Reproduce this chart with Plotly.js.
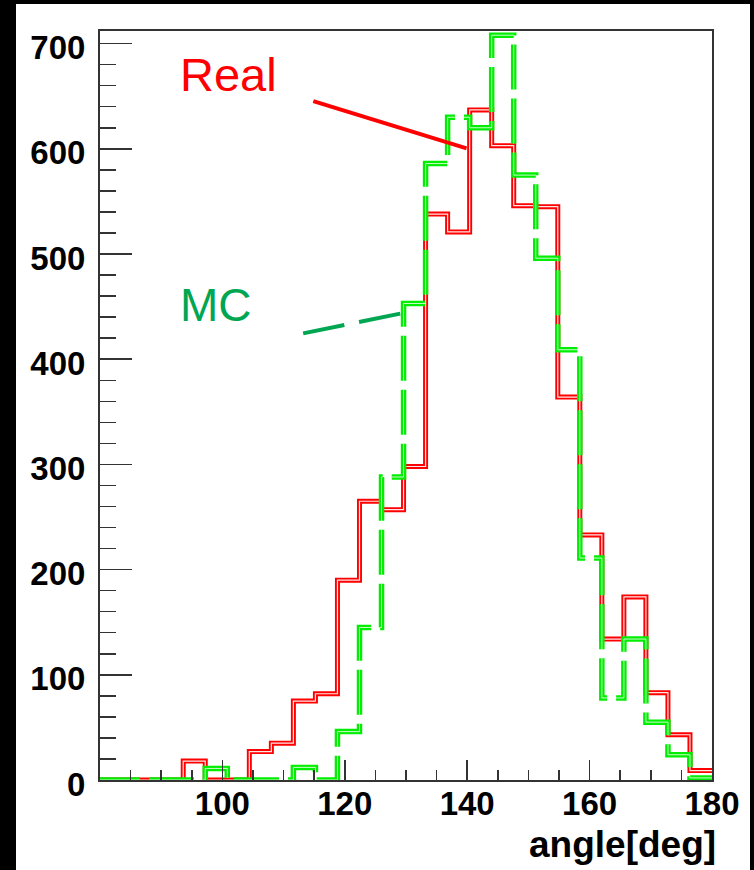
<!DOCTYPE html>
<html><head><meta charset="utf-8">
<script src="https://cdn.plot.ly/plotly-3.0.1.min.js"></script>
<style>
html,body{margin:0;padding:0;background:#000;width:754px;height:870px;overflow:hidden;}
#chart{position:absolute;left:16px;top:4px;width:734px;height:866px;background:#fff;}
</style></head><body><div id="chart"></div>
<script>
// Histogram bins (left edges, degrees) and upper edge
const binLeftEdges = [79.2, 82.8, 86.4, 90, 93.6, 97.2, 100.8, 104.4, 108, 111.6, 115.2, 118.8, 122.4, 126,
  129.6, 133.2, 136.8, 140.4, 144, 147.6, 151.2, 154.8, 158.4, 162, 165.6, 169.2, 172.8, 176.4];
const binUpperEdge = 180;
// Counts per bin
const realCounts = [0, 0, 0, 0, 18, 0, 0, 27, 35, 75, 82, 190, 265, 257,
  298, 538, 521, 637, 603, 546, 545, 364, 233, 134, 174, 83, 43, 9];
const mcCounts = [0, 0, 0, 0, 0, 11, 0, 0, 0, 12, 0, 46, 145, 288,
  453, 586, 630, 620, 708, 575, 496, 409, 211, 78, 134, 55, 24, 2];
const seriesNames = ['Real', 'MC'];
const xTickVals = [100, 120, 140, 160, 180];
const yTickVals = [0, 100, 200, 300, 400, 500, 600, 700];
const xAxisTitle = 'angle[deg]';

function stepXY(counts) {
  return { x: binLeftEdges.concat([binUpperEdge]), y: counts.concat([counts[counts.length - 1]]) };
}
const realXY = stepXY(realCounts);
const mcXY = stepXY(mcCounts);
const RED = '#ff0000', GREEN = '#00ee00', MCTEXT = '#00a651';
const dashPat = '45px,9px';

const traces = [
  { x: realXY.x, y: realXY.y, type: 'scatter', mode: 'lines', name: seriesNames[0], line: { shape: 'hv', color: RED, width: 5 }, hoverinfo: 'skip' },
  { x: realXY.x, y: realXY.y, type: 'scatter', mode: 'lines', showlegend: false, line: { shape: 'hv', color: 'rgba(255,255,255,0.9)', width: 1.2 }, hoverinfo: 'skip' },
  { x: mcXY.x, y: mcXY.y, type: 'scatter', mode: 'lines', name: seriesNames[1], line: { shape: 'hv', color: GREEN, width: 5.5, dash: dashPat }, hoverinfo: 'skip' },
  { x: mcXY.x, y: mcXY.y, type: 'scatter', mode: 'lines', showlegend: false, line: { shape: 'hv', color: 'rgba(255,255,255,0.8)', width: 1, dash: dashPat }, hoverinfo: 'skip' }
];

const tickFont = { family: 'Liberation Sans, Arial, sans-serif', size: 33, color: '#000', weight: 'bold' };
const axisCommon = {
  showline: true, mirror: true, linecolor: '#333', linewidth: 2,
  ticks: 'inside', tickmode: 'array', tickwidth: 1.5, tickcolor: '#333',
  showgrid: false, zeroline: false, tickfont: tickFont, fixedrange: true
};

const layout = {
  width: 734, height: 866,
  margin: { l: 84, r: 38, t: 27, b: 90, pad: 0 },
  paper_bgcolor: '#fff', plot_bgcolor: '#fff',
  showlegend: false,
  xaxis: Object.assign({}, axisCommon, {
    range: [80, 180], tickvals: xTickVals, ticktext: xTickVals.map(String), ticklen: 20,
    ticklabelstandoff: -7,
    minor: { tickmode: 'linear', tick0: 80, dtick: 5, ticks: 'inside', ticklen: 10, tickwidth: 1.5, tickcolor: '#333' }
  }),
  yaxis: Object.assign({}, axisCommon, {
    range: [0, 712], tickvals: yTickVals, ticktext: yTickVals.map(String), ticklen: 32,
    ticklabelstandoff: 6, ticklabelshift: 4,
    minor: { tickmode: 'linear', tick0: 0, dtick: 20, ticks: 'inside', ticklen: 16, tickwidth: 1.5, tickcolor: '#333' }
  }),
  annotations: [
    { xref: 'x', yref: 'y', x: 92.9, y: 671, text: seriesNames[0], showarrow: false, xanchor: 'left', yanchor: 'middle', borderpad: 0,
      font: { family: 'Liberation Sans, Arial, sans-serif', size: 47, color: RED } },
    { xref: 'x', yref: 'y', x: 92.9, y: 452, text: seriesNames[1], showarrow: false, xanchor: 'left', yanchor: 'middle', borderpad: 0,
      font: { family: 'Liberation Sans, Arial, sans-serif', size: 46, color: MCTEXT } },
    { xref: 'paper', yref: 'paper', x: (717 - 100) / 612, y: -0.058, text: xAxisTitle, showarrow: false, xanchor: 'right', yanchor: 'top', borderpad: 0,
      font: { family: 'Liberation Sans, Arial, sans-serif', size: 37, color: '#000', weight: 'bold' } }
  ],
  shapes: [
    { type: 'line', xref: 'x', yref: 'y', x0: 114.85, y0: 645.4, x1: 139.9, y1: 600.5, line: { color: RED, width: 4 } },
    { type: 'line', xref: 'x', yref: 'y', x0: 113.2, y0: 424.6, x1: 129.3, y1: 443.6, line: { color: MCTEXT, width: 4, dash: '42px,15px' } }
  ]
};

Plotly.newPlot('chart', traces, layout, { staticPlot: true, displayModeBar: false });
</script></body></html>
